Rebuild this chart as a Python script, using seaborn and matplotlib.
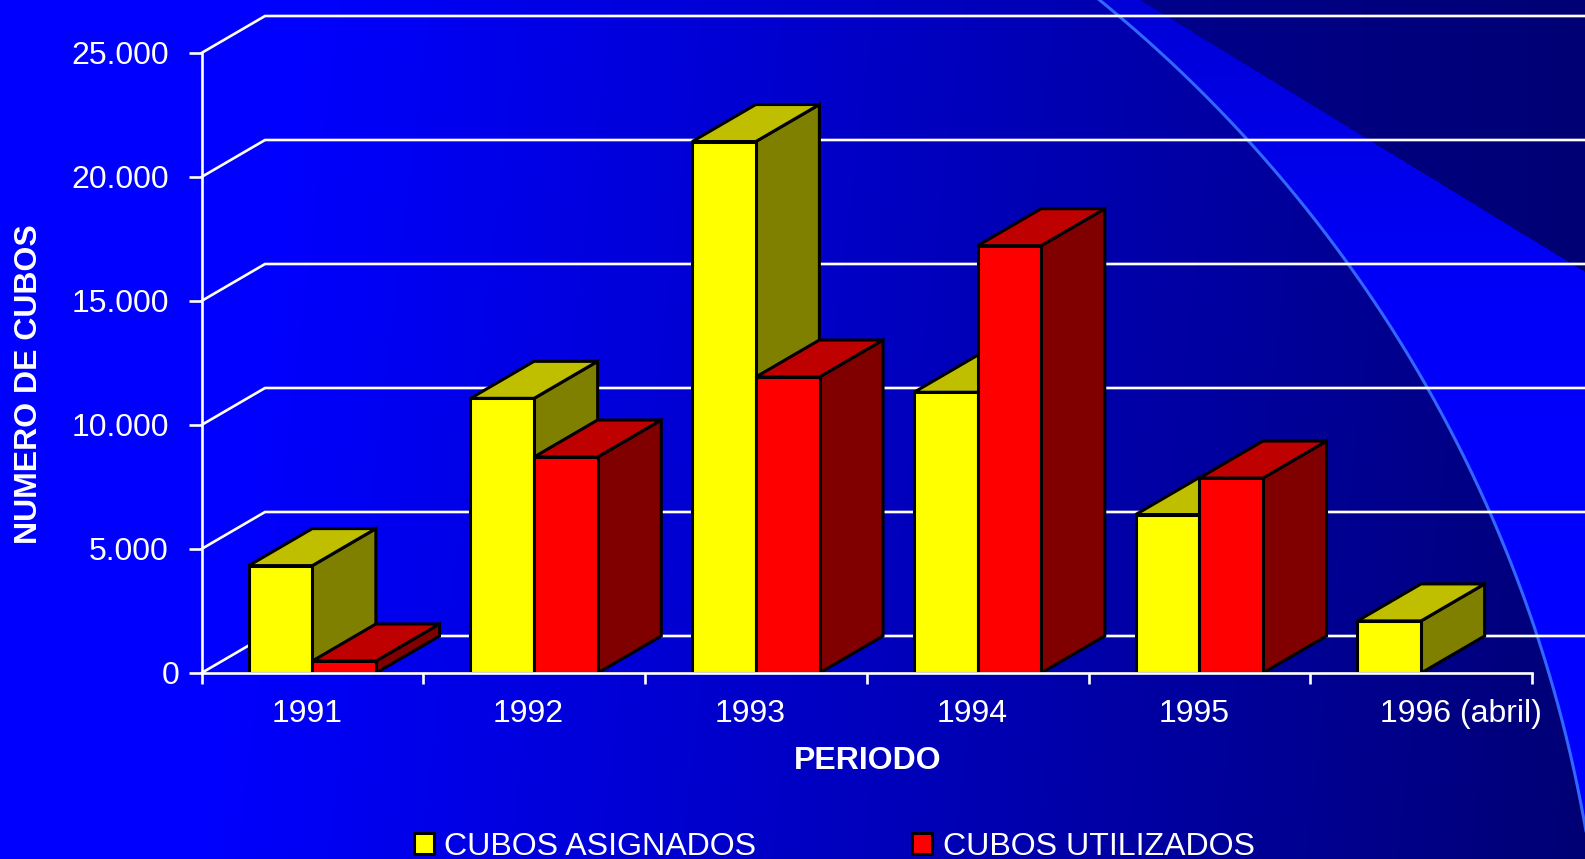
import numpy as np
import pandas as pd
import seaborn as sns
from matplotlib import pyplot as plt
from matplotlib.colors import to_rgb
from matplotlib.patches import Polygon

W, H = 1585, 859

periods = ["1991", "1992", "1993", "1994", "1995", "1996 (abril)"]
asignados = [4330, 11075, 21430, 11320, 6390, 2100]
utilizados = [484, 8710, 11935, 17230, 7860, np.nan]
series_names = ["CUBOS ASIGNADOS", "CUBOS UTILIZADOS"]
y_ticks = [0, 5000, 10000, 15000, 20000, 25000]
y_labels = ["0", "5.000", "10.000", "15.000", "20.000", "25.000"]

# depth of the fake 3d look, in axis units
DEPTH_X = 0.2864
DEPTH_Y = 1492

sns.set_theme(style="white")
plt.rcParams["font.family"] = ["Liberation Sans", "DejaVu Sans"]
plt.rcParams["text.color"] = "white"

fig = plt.figure(figsize=(W / 100, H / 100), dpi=100)

# slide background, in pixels
bg = fig.add_axes([0, 0, 1, 1])
px, py = np.meshgrid(np.arange(W) + 0.5, np.arange(H) + 0.5)
blue = np.interp(px + 0.12 * py, [0, 300, 1500, 1720], [255, 255, 136, 112])
cx, cy, radius = 233, 1065, 1373
outside = (px - cx) ** 2 + (py - cy) ** 2 > radius ** 2
blue[outside] = np.interp(py[outside], [0, 300, 600], [215, 250, 255])
dark = py < (px - 1140) * 272 / (W - 1140)
blue[dark] = np.interp(px[dark], [1140, 1585], [140, 116])
image = np.dstack([np.zeros_like(blue), np.zeros_like(blue), blue / 255])
bg.imshow(image, extent=(0, W, H, 0), aspect="auto", interpolation="nearest")
angle = np.linspace(-1.2, 0.0, 300)
bg.plot(cx + radius * np.cos(angle), cy + radius * np.sin(angle), color="#3366ff", lw=2.2)
bg.set_xlim(0, W)
bg.set_ylim(H, 0)
bg.axis("off")

ax = fig.add_axes([201.5 / W, 1 - 673 / H, 1330.5 / W, 620 / H])
ax.patch.set_alpha(0)

data = pd.DataFrame({
    "periodo": periods * 2,
    "cubos": asignados + utilizados,
    "serie": [series_names[0]] * 6 + [series_names[1]] * 6,
})
sns.barplot(
    data=data,
    x="periodo",
    y="cubos",
    hue="serie",
    order=periods,
    palette=["#ffff00", "#ff0000"],
    saturation=1,
    width=0.574,
    gap=0,
    errorbar=None,
    edgecolor="black",
    linewidth=2.2,
    ax=ax,
)
handles = ax.get_legend().legend_handles

# top and side faces, painted left to right over each other
bars = [b for b in ax.patches if b.get_height() > 0]
bars.sort(key=lambda b: b.get_x())
for i, bar in enumerate(bars):
    x0, x1, h = bar.get_x(), bar.get_x() + bar.get_width(), bar.get_height()
    rgb = np.array(to_rgb(bar.get_facecolor()))
    z = 3 + i
    bar.set_zorder(z + 0.5)
    side = [(x1, 0), (x1 + DEPTH_X, DEPTH_Y), (x1 + DEPTH_X, h + DEPTH_Y), (x1, h)]
    top = [(x0, h), (x0 + DEPTH_X, h + DEPTH_Y), (x1 + DEPTH_X, h + DEPTH_Y), (x1, h)]
    for face, shade in [(side, 0.5), (top, 0.75)]:
        ax.add_patch(Polygon(face, closed=True, facecolor=rgb * shade, edgecolor="black",
                             lw=2.2, clip_on=False, zorder=z, joinstyle="miter"))

# back wall lines run on to the slide edge
for v in y_ticks:
    ax.plot([-0.5, -0.5 + DEPTH_X, 7], [v, v + DEPTH_Y, v + DEPTH_Y],
            color="white", lw=1.9, clip_on=False, zorder=1, solid_joinstyle="miter")

ax.set_xlim(-0.5, 5.5)
ax.set_ylim(0, 25000)
ax.set_yticks(y_ticks, labels=y_labels)
ax.set_xticks(np.arange(-0.5, 6, 1), labels=[])
ax.set_xticks(np.arange(6) - 0.186, labels=periods, minor=True, ha="left")
ax.tick_params(axis="y", left=True, length=9.4, width=1.9, color="white",
               labelcolor="white", labelsize=23, pad=14)
ax.tick_params(axis="x", which="major", bottom=True, length=8, width=1.9, color="white")
ax.tick_params(axis="x", which="minor", bottom=False, length=0, labelcolor="white",
               labelsize=23, pad=18.5)
# the zero sits closer to the axis than the other labels
ax.yaxis.get_major_ticks()[0].set_pad(6.5)
for name in ["top", "right"]:
    ax.spines[name].set_visible(False)
for name in ["left", "bottom"]:
    ax.spines[name].set_color("white")
    ax.spines[name].set_linewidth(1.9)
    ax.spines[name].set_zorder(50)

ax.set_xlabel("PERIODO", color="white", fontsize=23, fontweight="bold")
ax.xaxis.set_label_coords(0.501, (673 - 761) / 620)
ax.xaxis.label.set_va("center")
ax.set_ylabel("NUMERO DE CUBOS", color="white", fontsize=23, fontweight="bold")
ax.yaxis.set_label_coords((29 - 201.5) / 1330.5, (673 - 384) / 620)
ax.yaxis.label.set_va("center")

ax.get_legend().remove()
legend = fig.legend(
    handles,
    series_names,
    loc="center left",
    bbox_to_anchor=(414 / W, 1 - 847 / H),
    ncol=2,
    frameon=False,
    fontsize=23.1,
    labelcolor="white",
    handlelength=0.62,
    handleheight=0.62,
    handletextpad=0.33,
    columnspacing=4.85,
    borderpad=0,
    borderaxespad=0,
)

fig.savefig("out.png", dpi=100)
